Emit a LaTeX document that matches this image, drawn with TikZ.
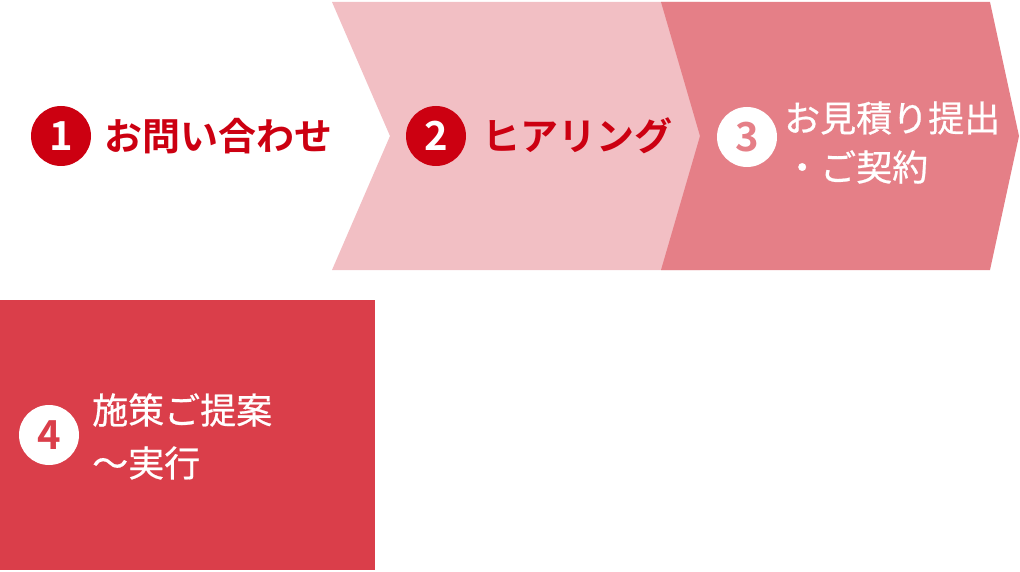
\documentclass[tikz,border=0pt]{standalone}
\usepackage{fontspec}
\newfontfamily\jpreg[FakeBold=0.6]{Noto Sans CJK JP}
\newfontfamily\jpbold{Noto Sans CJK JP Bold}
\definecolor{lightpink}{HTML}{F2BFC4}
\definecolor{midpink}{HTML}{E57F87}
\definecolor{boxred}{HTML}{DA3E4A}
\definecolor{darkred}{HTML}{CC0011}
\tikzset{
  numdisc/.style={circle, minimum size=60pt, inner sep=0pt, font=\jpbold\fontsize{40}{40}\selectfont},
  steptext/.style={anchor=west, inner sep=0pt, font=\jpreg\fontsize{36}{36}\selectfont, text=white},
  steptextbold/.style={anchor=west, inner sep=0pt, font=\jpbold\fontsize{38}{38}\selectfont, text=darkred}
}
\begin{document}
\begin{tikzpicture}[x=1pt,y=-1pt]
\useasboundingbox (0,0) rectangle (1020,572);
% chevrons
\fill[lightpink] (332,2) -- (700,2) -- (735,136) -- (700,270) -- (332,270) -- (390,136) -- cycle;
\fill[midpink] (661,2) -- (990,2) -- (1019,136) -- (990,270) -- (661,270) -- (700,136) -- cycle;
\fill[boxred] (0,300) rectangle (375,570);
% step 1
\node[numdisc, fill=darkred, text=white] (n1) at (61,136) {1};
\node[steptextbold] (t1) at (104,136) {お問い合わせ};
% step 2
\node[numdisc, fill=darkred, text=white] (n2) at (436,136) {2};
\node[steptextbold] (t2) at (482,136) {ヒアリング};
% step 3
\node[numdisc, fill=white, text=midpink] (n3) at (747,137) {3};
\node[steptext] (t3a) at (784,118) {お見積り提出};
\node[steptext] (t3b) at (784,167) {・ご契約};
% step 4
\node[numdisc, fill=white, text=boxred] (n4) at (49,435) {4};
\node[steptext] (t4a) at (92,410) {施策ご提案};
\node[steptext] (t4b) at (92,463) {～実行};
\end{tikzpicture}
\end{document}
